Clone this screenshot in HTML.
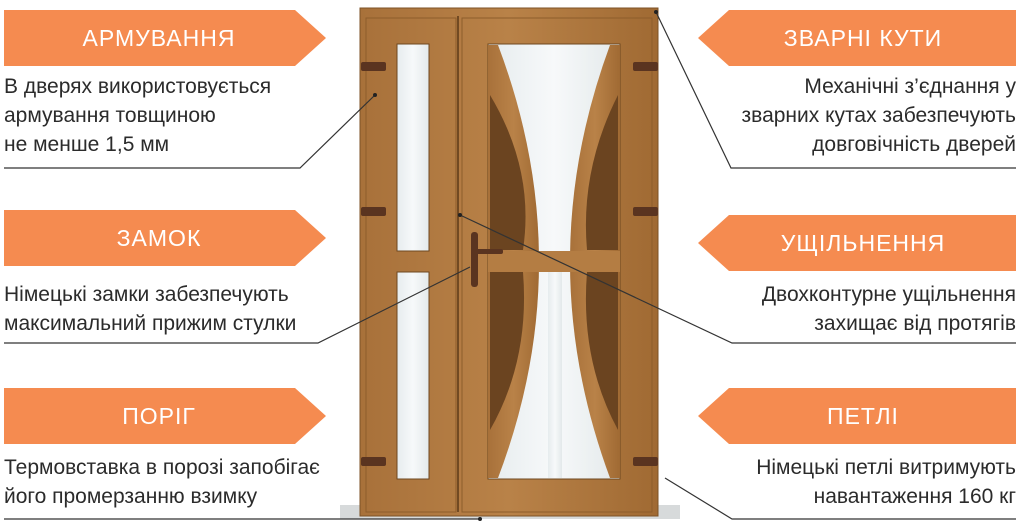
<!DOCTYPE html>
<html><head><meta charset="utf-8"><style>
body{margin:0;width:1024px;height:530px;background:#fff;overflow:hidden;position:relative;font-family:"Liberation Sans","DejaVu Sans",sans-serif}
.t{position:absolute;font-size:21px;color:#2b2b2b;line-height:29px;white-space:nowrap}
.r{text-align:right;right:8px}
.l{left:4px}
.bt{position:absolute;color:#fff;font-size:23px;letter-spacing:1px;text-align:center;line-height:56px;height:56px}
</style></head><body>
<svg width="1024" height="530" style="position:absolute;left:0;top:0">
<defs>
<linearGradient id="w" x1="0" x2="1"><stop offset="0" stop-color="#a8713a"/><stop offset=".5" stop-color="#b98248"/><stop offset="1" stop-color="#a06a33"/></linearGradient>
<linearGradient id="g" x1="0" x2="1"><stop offset="0" stop-color="#e6ecee"/><stop offset=".5" stop-color="#f7f9fa"/><stop offset="1" stop-color="#e3e9ea"/></linearGradient>
</defs>
<g fill="#f58b50">
<polygon points="4,10 295,10 326,38 295,66 4,66"/>
<polygon points="4,210 295,210 326,238 295,266 4,266"/>
<polygon points="4,388 295,388 326,416 295,444 4,444"/>
<polygon points="1016,10 729,10 698,38 729,66 1016,66"/>
<polygon points="1016,215 729,215 698,243 729,271 1016,271"/>
<polygon points="1016,388 729,388 698,416 729,444 1016,444"/>
</g>
<rect x="340" y="505" width="340" height="14" fill="#d7dadb"/>
<rect x="360" y="8" width="298" height="508" fill="url(#w)" stroke="#7d5226" stroke-width="1"/>
<rect x="366" y="18" width="90" height="494" fill="none" stroke="#8d5d2b" stroke-width="1"/>
<line x1="458" y1="16" x2="458" y2="512" stroke="#5d3a18" stroke-width="1.5"/>
<rect x="462" y="18" width="190" height="494" fill="none" stroke="#8d5d2b" stroke-width="1"/>
<rect x="397" y="44" width="32" height="207" fill="url(#g)" stroke="#6e4820"/>
<rect x="397" y="272" width="32" height="207" fill="url(#g)" stroke="#6e4820"/>
<rect x="488" y="44" width="132" height="435" fill="url(#g)" stroke="#6e4820"/>
<path d="M488,45 L498,45 Q580,262 498,478 L488,478 Z" fill="url(#w)"/>
<path d="M620,45 L610,45 Q530,262 610,478 L620,478 Z" fill="url(#w)"/>
<rect x="488" y="251" width="132" height="21" fill="#b47d43"/>
<path d="M490,95 Q535,170 523,250 L490,250 Z" fill="#6b4420"/>
<path d="M490,272 L523,272 Q530,360 490,430 Z" fill="#6b4420"/>
<path d="M618,95 Q580,170 587,250 L618,250 Z" fill="#6b4420"/>
<path d="M618,272 L587,272 Q580,360 618,430 Z" fill="#6b4420"/>
<rect x="548" y="272" width="14" height="206" fill="url(#g)"/>
<g fill="#5a3420">
<rect x="361" y="62" width="25" height="9" rx="2"/><rect x="361" y="207" width="25" height="9" rx="2"/><rect x="361" y="457" width="25" height="9" rx="2"/>
<rect x="633" y="62" width="25" height="9" rx="2"/><rect x="633" y="207" width="25" height="9" rx="2"/><rect x="633" y="457" width="25" height="9" rx="2"/>
<rect x="471" y="232" width="7" height="55" rx="3"/><rect x="475" y="249" width="28" height="5" rx="2"/>
</g>
<g stroke="#333" stroke-width="1.2" fill="none">
<polyline points="4,168 300,168 375,95"/>
<polyline points="4,343 318,343 470,267"/>
<polyline points="4,519 480,519"/>
<polyline points="1016,168 731,168 656,12"/>
<polyline points="1016,343 732,343 460,215"/>
<polyline points="1016,519 732,519 665,478"/>
</g>
<g fill="#222"><circle cx="375" cy="95" r="2"/><circle cx="460" cy="215" r="2"/><circle cx="656" cy="12" r="2"/><circle cx="480" cy="519" r="2"/></g>
</svg>
<div class="bt" style="left:4px;top:10px;width:310px">АРМУВАННЯ</div>
<div class="bt" style="left:4px;top:210px;width:310px">ЗАМОК</div>
<div class="bt" style="left:4px;top:388px;width:310px">ПОРІГ</div>
<div class="bt" style="left:710px;top:10px;width:306px">ЗВАРНІ КУТИ</div>
<div class="bt" style="left:710px;top:215px;width:306px">УЩІЛЬНЕННЯ</div>
<div class="bt" style="left:710px;top:388px;width:306px">ПЕТЛІ</div>
<div class="t l" style="top:72px">В дверях використовується<br>армування товщиною<br>не менше 1,5 мм</div>
<div class="t l" style="top:280px">Німецькі замки забезпечують<br>максимальний прижим стулки</div>
<div class="t l" style="top:453px">Термовставка в порозі запобігає<br>його промерзанню взимку</div>
<div class="t r" style="top:72px">Механічні з’єднання у<br>зварних кутах забезпечують<br>довговічність дверей</div>
<div class="t r" style="top:280px">Двохконтурне ущільнення<br>захищає від протягів</div>
<div class="t r" style="top:453px">Німецькі петлі витримують<br>навантаження 160 кг</div>
</body></html>
